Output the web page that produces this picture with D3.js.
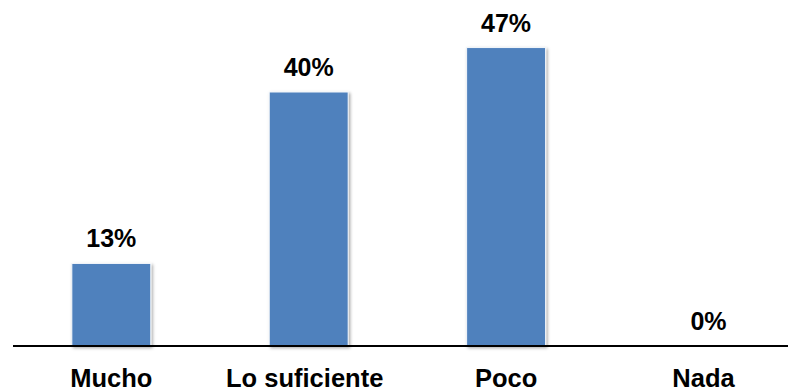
<!DOCTYPE html>
<html>
<head>
<meta charset="utf-8">
<script src="https://cdn.jsdelivr.net/npm/d3@7"></script>
<style>
  html, body { margin: 0; padding: 0; background: #ffffff; }
  svg { display: block; }
</style>
</head>
<body>
<svg id="chart" width="788" height="391"></svg>
<script>
// Response categories and their share of answers (%)
const categories = ["Mucho", "Lo suficiente", "Poco", "Nada"];
const values = [13, 40, 47, 0];
const valueLabels = ["13%", "40%", "47%", "0%"];

const W = 788, H = 391;
const baseY = 346;

const svg = d3.select("#chart");

const defs = svg.append("defs");
const shadow = defs.append("filter").attr("id", "barShadow")
  .attr("x", "-10%").attr("y", "-10%").attr("width", "130%").attr("height", "130%");
shadow.append("feDropShadow")
  .attr("dx", 1.5).attr("dy", 1.5).attr("stdDeviation", 1.5)
  .attr("flood-color", "#000").attr("flood-opacity", 0.35);

const x = d3.scaleBand()
  .domain(categories)
  .range([12.6, 802.2])
  .paddingInner(0.6)
  .paddingOuter(0.3);

const y = d3.scaleLinear().domain([0, 50]).range([baseY, baseY - 50 * 6.35]);

// Bars
svg.append("g").selectAll("rect")
  .data(categories)
  .join("rect")
  .attr("x", d => x(d))
  .attr("y", (d, i) => y(values[i]))
  .attr("width", x.bandwidth())
  .attr("height", (d, i) => y(0) - y(values[i]))
  .attr("fill", "#4F81BD")
  .attr("stroke", "#f4f7fb")
  .attr("stroke-width", 1)
  .attr("filter", "url(#barShadow)");

// Category axis line
svg.append("line")
  .attr("x1", 13).attr("x2", W)
  .attr("y1", baseY).attr("y2", baseY)
  .attr("stroke", "#000").attr("stroke-width", 2);

const font = "'Liberation Sans', Arial, sans-serif";

// Value labels above bars
svg.append("g").selectAll("text")
  .data(categories)
  .join("text")
  .attr("x", d => x(d) + x.bandwidth() / 2 + (values[categories.indexOf(d)] === 0 ? 5 : 0))
  .attr("y", (d, i) => y(values[i]) - 16)
  .attr("text-anchor", "middle")
  .attr("font-family", font)
  .attr("font-weight", "bold")
  .attr("font-size", 25)
  .attr("fill", "#000")
  .text((d, i) => valueLabels[i]);

// Category labels
svg.append("g").selectAll("text")
  .data(categories)
  .join("text")
  .attr("x", (d, i) => x(d) + x.bandwidth() / 2 + (i === 1 ? -4 : 0))
  .attr("y", 387)
  .attr("text-anchor", "middle")
  .attr("font-family", font)
  .attr("font-weight", "bold")
  .attr("font-size", 25.5)
  .attr("fill", "#000")
  .text(d => d);
</script>
</body>
</html>
